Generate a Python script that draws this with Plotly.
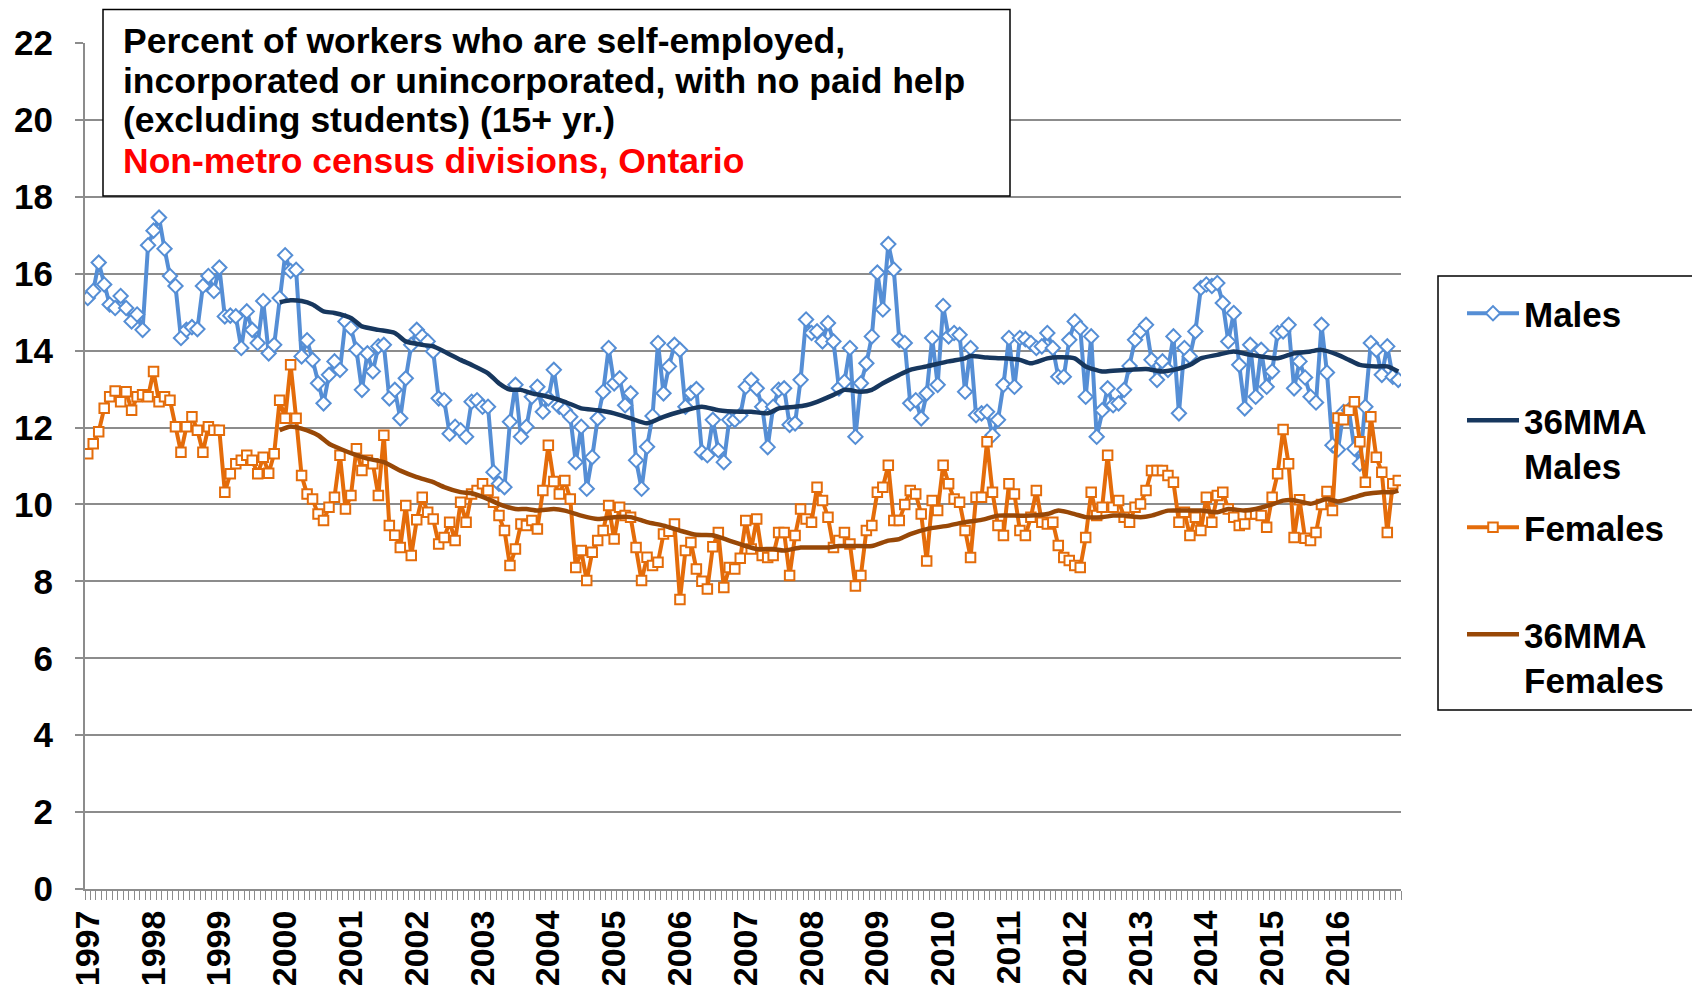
import plotly.graph_objects as go

# ---------------- data ----------------
year_labels = ["1997", "1998", "1999", "2000", "2001", "2002", "2003", "2004", "2005", "2006",
               "2007", "2008", "2009", "2010", "2011", "2012", "2013", "2014", "2015", "2016"]

# monthly values, Jan 1997 .. Dec 2016 (one row per year)
males = [
    15.37, 15.55, 16.29, 15.72, 15.2, 15.11, 15.42, 15.11, 14.76, 14.94, 14.54, 16.74,
    17.12, 17.46, 16.65, 15.94, 15.68, 14.33, 14.54, 14.61, 14.56, 15.68, 15.94, 15.55,
    16.16, 14.89, 14.91, 14.89, 14.07, 15.02, 14.54, 14.2, 15.29, 13.93, 14.15, 15.37,
    16.48, 16.07, 16.1, 13.85, 14.27, 13.76, 13.15, 12.63, 13.37, 13.72, 13.5, 14.76,
    14.59, 14.02, 12.98, 13.93, 13.46, 14.11, 14.15, 12.76, 12.98, 12.24, 13.28, 14.15,
    14.54, 14.37, 14.24, 13.98, 12.76, 12.71, 11.84, 12.02, 11.93, 11.76, 12.67, 12.71,
    12.54, 12.54, 10.84, 10.54, 10.45, 12.15, 13.11, 11.76, 12.02, 12.8, 13.06, 12.41,
    12.76, 13.5, 12.54, 12.45, 12.28, 11.1, 12.02, 10.41, 11.23, 12.24, 12.93, 14.07,
    13.15, 13.28, 12.58, 12.89, 11.15, 10.41, 11.5, 12.3, 14.2, 12.89, 13.59, 14.15,
    14.02, 12.54, 12.9, 13.0, 11.36, 11.28, 12.2, 11.41, 11.1, 12.2, 12.2, 12.32,
    13.06, 13.24, 13.02, 12.54, 11.49, 12.54, 12.98, 13.02, 12.07, 12.11, 13.24, 14.81,
    14.46, 14.5, 14.24, 14.72, 14.24, 13.02, 13.19, 14.07, 11.76, 13.15, 13.67, 14.37,
    16.03, 15.07, 16.77, 16.11, 14.28, 14.2, 12.63, 12.71, 12.24, 12.89, 14.33, 13.11,
    15.16, 14.37, 14.46, 14.41, 12.93, 14.07, 12.32, 12.37, 12.41, 11.8, 12.2, 13.11,
    14.33, 13.06, 14.33, 14.3, 14.2, 14.07, 14.11, 14.46, 14.07, 13.32, 13.32, 14.28,
    14.76, 14.59, 12.8, 14.37, 11.76, 12.45, 13.02, 12.58, 12.63, 12.98, 13.6, 14.28,
    14.5, 14.67, 13.76, 13.24, 13.72, 13.5, 14.37, 12.37, 14.07, 13.85, 14.5, 15.63,
    15.72, 15.68, 15.76, 15.24, 14.24, 14.98, 13.63, 12.5, 14.15, 12.8, 14.02, 13.06,
    13.46, 14.46, 14.5, 14.67, 13.02, 13.72, 13.3, 12.8, 12.65, 14.67, 13.43, 11.54,
    11.43, 12.4, 12.45, 11.45, 11.06, 12.54, 14.2, 14.02, 13.37, 14.11, 13.32, 13.24,
]

females = [
    11.32, 11.58, 11.89, 12.5, 12.8, 12.95, 12.67, 12.93, 12.45, 12.8, 12.85, 12.8,
    13.46, 12.67, 12.8, 12.71, 12.02, 11.36, 12.02, 12.28, 11.93, 11.36, 12.02, 11.93,
    11.93, 10.32, 10.8, 11.06, 11.15, 11.28, 11.15, 10.8, 11.23, 10.81, 11.32, 12.71,
    12.24, 13.63, 12.24, 10.75, 10.27, 10.14, 9.75, 9.58, 9.93, 10.19, 11.28, 9.88,
    10.23, 11.45, 10.88, 11.15, 11.06, 10.23, 11.8, 9.45, 9.2, 8.88, 9.97, 8.67,
    9.6, 10.19, 9.8, 9.62, 8.97, 9.14, 9.54, 9.06, 10.06, 9.54, 10.27, 10.36,
    10.54, 10.36, 10.06, 9.71, 9.32, 8.41, 8.84, 9.49, 9.45, 9.58, 9.36, 10.36,
    11.54, 10.6, 10.27, 10.62, 10.14, 8.36, 8.8, 8.02, 8.76, 9.06, 9.32, 9.97,
    9.1, 9.93, 9.71, 9.67, 8.88, 8.02, 8.63, 8.41, 8.5, 9.23, 9.3, 9.49,
    7.53, 8.8, 9.01, 8.32, 8.0, 7.8, 8.9, 9.27, 7.84, 8.36, 8.32, 8.6,
    9.58, 8.84, 9.62, 8.67, 8.62, 8.67, 9.27, 9.27, 8.15, 9.19, 9.88, 9.62,
    9.54, 10.45, 10.1, 9.67, 8.88, 9.06, 9.27, 8.97, 7.88, 8.15, 9.32, 9.45,
    10.32, 10.45, 11.02, 9.58, 9.58, 10.0, 10.36, 10.27, 9.75, 8.53, 10.1, 9.84,
    11.02, 10.54, 10.14, 10.06, 9.32, 8.62, 10.19, 10.19, 11.63, 10.32, 9.45, 9.19,
    10.54, 10.27, 9.32, 9.19, 9.67, 10.36, 9.54, 9.49, 9.54, 8.93, 8.62, 8.54,
    8.41, 8.36, 9.14, 10.32, 9.71, 9.93, 11.28, 9.93, 10.1, 9.67, 9.54, 9.93,
    10.01, 10.36, 10.88, 10.88, 10.88, 10.75, 10.58, 9.54, 9.8, 9.19, 9.67, 9.32,
    10.19, 9.54, 10.23, 10.32, 9.88, 9.67, 9.45, 9.49, 9.75, 9.75, 9.71, 9.41,
    10.19, 10.8, 11.95, 11.06, 9.14, 10.12, 9.12, 9.06, 9.27, 10.0, 10.34, 9.84,
    12.25, 12.2, 12.45, 12.67, 11.63, 10.58, 12.28, 11.23, 10.84, 9.27, 10.54, 10.62,
]

# 36-month moving averages, read at these month indexes (0 = Jan 1997)
mma_males_month = [35, 37, 39, 41, 43, 45, 48, 50, 53, 56, 58, 61, 63, 65, 68, 70, 73, 75, 77, 79,
                   81, 84, 87, 90, 93, 96, 99, 102, 105, 108, 112, 115, 119, 121, 124, 126, 129, 131, 133, 136,
                   138, 141, 143, 145, 148, 150, 153, 157, 160, 161, 164, 167, 170, 172, 175, 177, 180, 182, 185, 187,
                   190, 193, 196, 198, 201, 203, 206, 209, 212, 214, 217, 220, 223, 225, 228, 230, 232, 235, 237, 239]
mma_males = [15.26, 15.31, 15.29, 15.2, 15.02, 14.98, 14.85, 14.63, 14.54, 14.46,
             14.24, 14.15, 14.11, 13.98, 13.76, 13.63, 13.41, 13.15, 12.99, 12.98,
             12.89, 12.8, 12.67, 12.5, 12.45, 12.37, 12.24, 12.11, 12.28, 12.41,
             12.54, 12.45, 12.41, 12.41, 12.37, 12.5, 12.54, 12.58, 12.67, 12.85,
             12.98, 12.93, 12.98, 13.15, 13.37, 13.5, 13.59, 13.72, 13.8, 13.86,
             13.82, 13.8, 13.76, 13.67, 13.8, 13.83, 13.8, 13.59, 13.46, 13.48,
             13.5, 13.52, 13.46, 13.5, 13.63, 13.8, 13.89, 13.98, 13.89, 13.85,
             13.8, 13.93, 13.98, 14.02, 13.89, 13.76, 13.63, 13.59, 13.59, 13.46]

mma_females_month = [35, 37, 39, 42, 44, 46, 49, 51, 54, 57, 60, 63, 65, 68, 70, 73, 75, 78, 80, 82,
                     85, 87, 90, 93, 96, 99, 102, 105, 108, 111, 114, 117, 120, 122, 125, 127, 130, 132, 135, 137,
                     140, 143, 146, 148, 150, 153, 157, 160, 163, 166, 169, 172, 175, 177, 180, 182, 185, 187, 189, 192,
                     194, 197, 200, 203, 206, 208, 211, 213, 216, 218, 220, 223, 226, 228, 231, 233, 236, 238, 239]
mma_females = [11.93, 12.03, 11.97, 11.8, 11.58, 11.45, 11.28, 11.19, 11.1, 10.88,
               10.71, 10.58, 10.45, 10.32, 10.29, 10.14, 10.01, 9.88, 9.88, 9.84,
               9.88, 9.84, 9.71, 9.62, 9.67, 9.67, 9.54, 9.45, 9.32, 9.21,
               9.2, 9.06, 8.92, 8.84, 8.84, 8.8, 8.88, 8.88, 8.88, 8.92,
               8.92, 8.92, 9.06, 9.1, 9.23, 9.36, 9.45, 9.54, 9.6, 9.71,
               9.71, 9.71, 9.75, 9.84, 9.75, 9.67, 9.67, 9.71, 9.71, 9.67,
               9.71, 9.84, 9.84, 9.84, 9.8, 9.88, 9.84, 9.88, 10.0, 10.1,
               10.11, 10.02, 10.14, 10.08, 10.19, 10.27, 10.32, 10.32, 10.36]

title_lines = ["Percent of workers who are self-employed,",
               "incorporated or unincorporated, with no paid help",
               "(excluding students) (15+ yr.)"]
subtitle = "Non-metro census divisions, Ontario"

# ---------------- figure ----------------
FONT = "Liberation Sans, Arial, sans-serif"
C_M, C_MM, C_F, C_FM = "#558ED5", "#17375E", "#E46C0A", "#984807"
GRID = "#8C8C8C"

n_months = len(males)
x_month = [i + 0.5 for i in range(n_months)]   # category centres

fig = go.Figure()
fig.add_trace(go.Scatter(
    x=x_month, y=males, name="Males<br>\u00a0", mode="lines+markers", legendgroup="g1",
    line=dict(color=C_M, width=4),
    marker=dict(symbol="diamond", size=11, color="white", line=dict(width=2, color=C_M))))
fig.add_trace(go.Scatter(
    x=[m + 0.5 for m in mma_males_month], y=mma_males, name="36MMA<br>Males", mode="lines",
    legendgroup="g2", line=dict(color=C_MM, width=4.5, shape="spline", smoothing=0.6)))
fig.add_trace(go.Scatter(
    x=x_month, y=females, name="Females<br>\u00a0", mode="lines+markers", legendgroup="g3",
    line=dict(color=C_F, width=4),
    marker=dict(symbol="square", size=9.5, color="white", line=dict(width=2, color=C_F))))
fig.add_trace(go.Scatter(
    x=[m + 0.5 for m in mma_females_month], y=mma_females, name="36MMA<br>Females", mode="lines",
    legendgroup="g4", line=dict(color=C_FM, width=4.5, shape="spline", smoothing=0.6)))

# page has an 8px body margin: figure occupies page x 8..1700, y 8..991
OFF = 8
W, H = 1700 - OFF, 991 - OFF
PL, PR, PT, PB = 85, 1401, 43, 889          # plot area in page pixels
L, R, T, B = PL - OFF, W - (PR - OFF), PT - OFF, H - (PB - OFF)
pw, ph = PR - PL, PB - PT

def px_x(px):   # page px -> paper x
    return (px - PL) / pw

def px_y(py):   # page px -> paper y
    return (PB - py) / ph

fig.update_layout(
    width=W, height=H,
    margin=dict(l=L, r=R, t=T, b=B, pad=0, autoexpand=False),
    paper_bgcolor="white", plot_bgcolor="white",
    font=dict(family=FONT, color="black"),
    showlegend=True,
    legend=dict(
        x=px_x(1462), y=px_y(284), xanchor="left", yanchor="top",
        bgcolor="rgba(0,0,0,0)", borderwidth=0,
        font=dict(family=FONT, size=35, color="black", weight="bold"),
        tracegroupgap=13, valign="top", itemwidth=52,
    ),
    xaxis=dict(
        range=[0, n_months],
        tickmode="array",
        tickvals=[12 * k + 0.5 for k in range(len(year_labels))],
        ticktext=year_labels,
        tickangle=-90, ticks="",
        tickfont=dict(family=FONT, size=34, color="black", weight="bold"),
        showgrid=False, zeroline=False, automargin=False,
        showline=True, linecolor=GRID, linewidth=2,
        minor=dict(ticks="outside", tick0=0, dtick=1, ticklen=9, tickwidth=1,
                   tickcolor=GRID, showgrid=False),
        ticklabelstandoff=6,
    ),
    yaxis=dict(
        range=[0, 22], tick0=0, dtick=2, automargin=False,
        tickfont=dict(family=FONT, size=35, color="black", weight="bold"),
        showgrid=True, gridcolor=GRID, gridwidth=1.5,
        zeroline=False, showline=True, linecolor=GRID, linewidth=2,
        ticks="outside", ticklen=8, tickcolor=GRID, tickwidth=1.5,
        ticklabelstandoff=15,
    ),
)

# title box
fig.add_shape(type="rect", xref="paper", yref="paper",
              x0=px_x(103), x1=px_x(1010), y0=px_y(196), y1=px_y(9.5),
              fillcolor="white", line=dict(color="black", width=1.5), layer="above")
# legend frame
fig.add_shape(type="rect", xref="paper", yref="paper",
              x0=px_x(1438), x1=px_x(1697), y0=px_y(710), y1=px_y(276),
              fillcolor="rgba(0,0,0,0)", line=dict(color="black", width=1.5), layer="above")

line_y = [41, 81, 120]
for txt, yy in zip(title_lines, line_y):
    fig.add_annotation(text=txt, xref="paper", yref="paper", x=px_x(121), y=px_y(yy),
                       xanchor="left", yanchor="middle", showarrow=False,
                       font=dict(family=FONT, size=35.5, color="black", weight="bold"))
fig.add_annotation(text=subtitle, xref="paper", yref="paper", x=px_x(121), y=px_y(161),
                   xanchor="left", yanchor="middle", showarrow=False,
                   font=dict(family=FONT, size=35.5, color="#FF0000", weight="bold"))

fig.write_html("out.html")
